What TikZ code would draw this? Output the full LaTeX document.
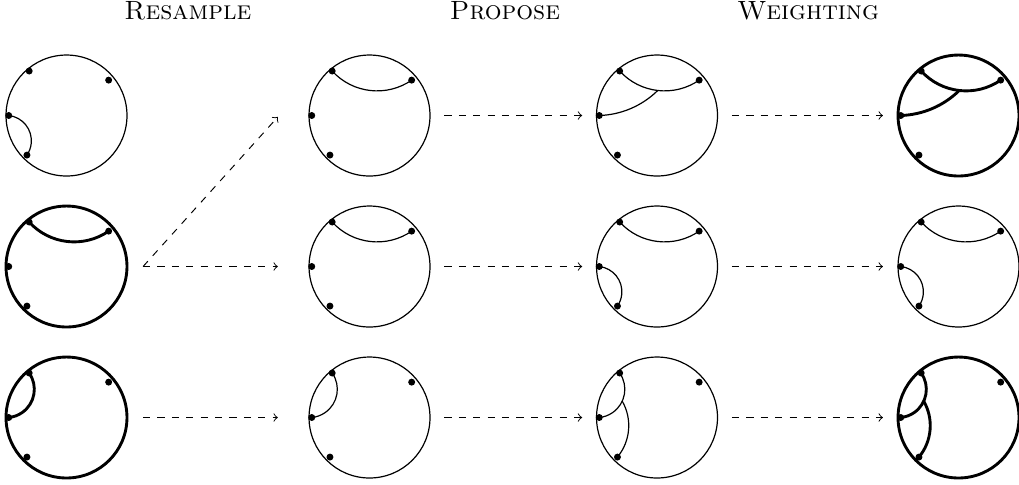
\documentclass[tikz,border=0pt]{standalone}
\usetikzlibrary{calc}
\def\Rad{25.2}
\newcommand\geo[5]{%
 \pgfmathsetmacro\gka{(1+(#2)*(#2)+(#3)*(#3))/2}%
 \pgfmathsetmacro\gkb{(1+(#4)*(#4)+(#5)*(#5))/2}%
 \pgfmathsetmacro\gdet{(#2)*(#5)-(#4)*(#3)}%
 \pgfmathsetmacro\gcx{((\gka)*(#5)-(\gkb)*(#3))/(\gdet)}%
 \pgfmathsetmacro\gcy{((#2)*(\gkb)-(#4)*(\gka))/(\gdet)}%
 \pgfmathsetmacro\grr{sqrt((\gcx)*(\gcx)+(\gcy)*(\gcy)-1)}%
 \pgfmathsetmacro\gsa{atan2((#3)-(\gcy),(#2)-(\gcx))}%
 \pgfmathsetmacro\gea{atan2((#5)-(\gcy),(#4)-(\gcx))}%
 \pgfmathsetmacro\gea{((\gea)-(\gsa)>180)?((\gea)-360):(((\gea)-(\gsa)<-180)?((\gea)+360):(\gea))}%
 \pgfmathsetmacro\gmid{((\gsa)+(\gea))/2}%
 \pgfmathsetmacro\gjx{(\gcx)+(\grr)*cos(\gmid)}%
 \pgfmathsetmacro\gjy{(\gcy)+(\grr)*sin(\gmid)}%
 \pgfmathsetmacro\grpt{(\grr)*\Rad}%
 \draw[#1] (#2,#3) arc[start angle=\gsa, end angle=\gea, radius=\grpt pt];%
}
% leaves
\def\pax{-0.61708}\def\pay{0.73540}
\def\pbx{0.69710}\def\pby{0.58494}
\def\pcx{-0.955}\def\pcy{0}
\def\pdx{-0.65407}\def\pdy{-0.65407}
\newcommand\arcA{\geo{}{\pax}{\pay}{\pbx}{\pby}}
\newcommand\arcB{\geo{}{\pcx}{\pcy}{\pdx}{\pdy}}
\newcommand\arcC{\geo{}{\pax}{\pay}{\pcx}{\pcy}}
\newcommand\arcAD{\arcA\let\jx\gjx\let\jy\gjy\geo{}{\pcx}{\pcy}{\jx}{\jy}}
\newcommand\arcCE{\arcC\let\jx\gjx\let\jy\gjy\geo{}{\jx}{\jy}{\pdx}{\pdy}}
\newcommand\pts{%
 \fill (\pax,\pay) circle[radius=1.45pt];
 \fill (\pbx,\pby) circle[radius=1.45pt];
 \fill (\pcx,\pcy) circle[radius=1.45pt];
 \fill (\pdx,\pdy) circle[radius=1.45pt];}
\newcommand\disk[5][]{%
 \node[disk,#1] (#2) at (#3pt,#4pt) {};
 \begin{scope}[shift={(#3pt,#4pt)}, x=\Rad pt, y=\Rad pt, #1]
 #5
 \pts
 \end{scope}}
\tikzset{
 disk/.style={circle, draw, minimum size=2*\Rad pt, inner sep=0pt, outer sep=0pt},
 bold/.style={line width=1.2pt},
 arr/.style={dashed, ->, line width=0.4pt},
 title/.style={font=\fontsize{11}{13}\selectfont\scshape, anchor=base},
}
\begin{document}
\begin{tikzpicture}[line width=0.5pt]
\useasboundingbox (0,0) rectangle (424.58pt,201.67pt);
% titles
\node[title] (t1) at (78.3pt,193.5pt) {Resample};
\node[title] (t2) at (210.4pt,193.5pt) {Propose};
\node[title] (t3) at (336.7pt,193.5pt) {Weighting};
% row 1
\disk{d11}{27.71}{153.54}{\arcB}
\disk{d12}{153.96}{153.54}{\arcA}
\disk{d13}{273.75}{153.54}{\arcAD}
\disk[bold]{d14}{399.375}{153.54}{\arcAD}
% row 2
\disk[bold]{d21}{27.71}{90.625}{\arcA}
\disk{d22}{153.96}{90.625}{\arcA}
\disk{d23}{273.75}{90.625}{\arcA\arcB}
\disk{d24}{399.375}{90.625}{\arcA\arcB}
% row 3
\disk[bold]{d31}{27.71}{27.71}{\arcC}
\disk{d32}{153.96}{27.71}{\arcC}
\disk{d33}{273.75}{27.71}{\arcCE}
\disk[bold]{d34}{399.375}{27.71}{\arcCE}
% arrows
\draw[arr] ([xshift=6.7pt]d21.east) -- ([xshift=-13pt,yshift=-0.6pt]d12.west);
\draw[arr] ([xshift=6.7pt]d21.east) -- ([xshift=-13pt]d22.west);
\draw[arr] ([xshift=6.7pt]d31.east) -- ([xshift=-13pt]d32.west);
\foreach \r in {1,2,3}{
 \draw[arr] ([xshift=6pt]d\r2.east) -- ([xshift=-6pt]d\r3.west);
 \draw[arr] ([xshift=6pt]d\r3.east) -- ([xshift=-6.3pt]d\r4.west);
}
\end{tikzpicture}
\end{document}
